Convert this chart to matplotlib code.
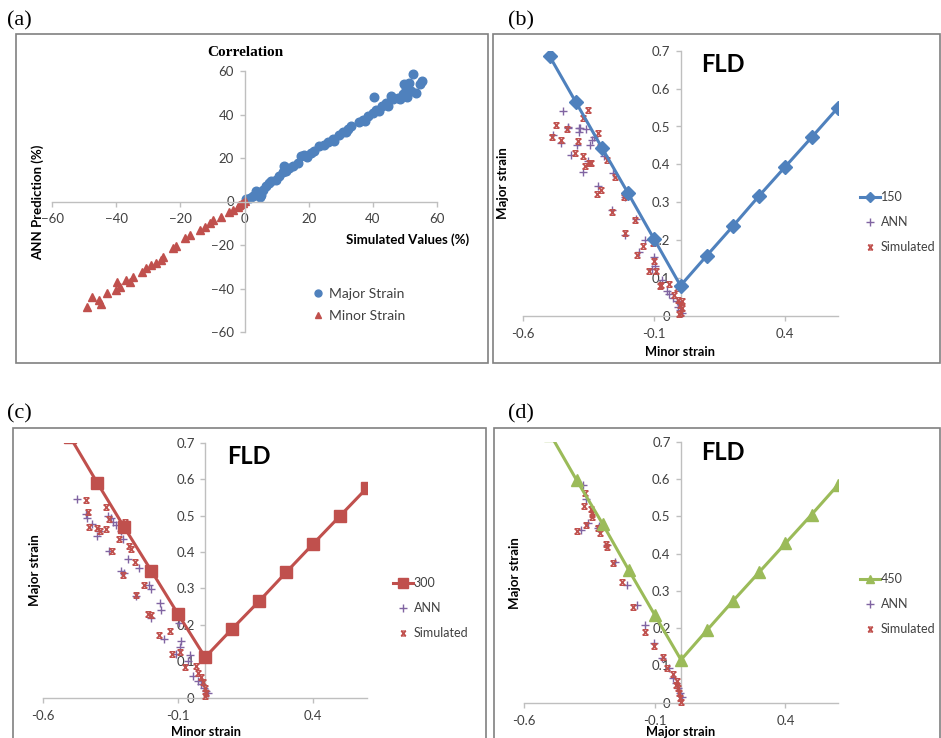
import numpy as np
import matplotlib
matplotlib.use('Agg')
import matplotlib.pyplot as plt
from matplotlib.patches import Rectangle
from matplotlib.path import Path
from matplotlib.lines import Line2D

plt.rcParams['font.family'] = ['Lato', 'DejaVu Sans']

# ---- DATA ----
# (a) correlation: simulated vs ANN prediction (%)
major_sim = [0.5, 1.6, 2.8, 5.2, 3.6, 5.7, 6.7, 8.3, 7.6, 9.9, 10.9, 12.4, 11.9, 14.0, 15.0,
             16.6, 17.6, 18.7, 21.8, 23.3, 24.9, 25.9, 27.5, 29.6, 30.6, 32.2, 33.2, 35.8,
             36.8, 38.4, 39.9, 41.0, 40.5, 43.0, 44.1, 45.6, 46.2, 47.7, 49.3, 50.3, 50.8,
             49.8, 51.3, 52.4, 53.4, 55.3, 54.7, 51.9, 20.7, 28.0, 4.7, 13.0, 19.5, 31.5,
             37.5, 42.0, 44.8, 48.5]
major_ann = [1.1, 1.5, 2.3, 3.1, 4.6, 5.4, 6.9, 9.2, 8.4, 10.0, 11.8, 16.1, 13.4, 15.4, 16.1,
             17.7, 20.7, 21.5, 23.0, 25.3, 26.1, 27.2, 28.7, 30.7, 31.8, 33.3, 34.6, 36.4,
             37.6, 39.2, 40.7, 42.2, 47.9, 43.8, 45.3, 48.4, 46.9, 47.6, 49.2, 51.5, 48.1,
             53.8, 54.5, 58.7, 49.9, 55.3, 53.8, 50.7, 22.3, 27.6, 2.0, 13.8, 20.5, 32.0,
             37.0, 41.5, 44.0, 47.0]
minor_sim = [-49.1, -47.4, -45.5, -44.8, -43.0, -40.2, -39.7, -38.7, -36.8, -34.8, -35.6,
             -31.8, -30.6, -29.0, -27.5, -25.4, -25.9, -22.3, -21.5, -18.7, -17.1, -14.0,
             -12.4, -10.9, -9.9, -7.3, -4.7, -3.6, -2.1, -1.0, 0.0, -0.5, -1.6]
minor_ann = [-48.4, -43.8, -45.3, -46.9, -42.2, -40.7, -36.9, -39.2, -36.1, -34.6, -36.9,
             -32.3, -30.7, -29.2, -28.4, -25.3, -26.9, -21.5, -20.4, -16.9, -15.4, -13.1,
             -11.5, -10.0, -8.4, -6.9, -4.6, -3.8, -2.3, -1.1, 0.3, -0.5, -1.5]

# FLD curves (minor strain grid, major strain for each thickness)
strain_grid = [-0.5, -0.4, -0.3, -0.2, -0.1, 0.0, 0.1, 0.2, 0.3, 0.4, 0.5, 0.6]
fld150 = [0.686, 0.565, 0.444, 0.324, 0.202, 0.080, 0.159, 0.237, 0.317, 0.394, 0.471, 0.549]
fld300 = [0.715, 0.590, 0.468, 0.349, 0.229, 0.111, 0.189, 0.265, 0.344, 0.422, 0.499, 0.576]
fld450 = [0.720, 0.598, 0.480, 0.356, 0.235, 0.115, 0.195, 0.274, 0.351, 0.428, 0.505, 0.584]

# (b) 150
b_ann_x = [-0.447, -0.487, -0.456, -0.428, -0.418, -0.383, -0.388, -0.396, -0.374, -0.352,
           -0.339, -0.345, -0.360, -0.330, -0.301, -0.292, -0.313, -0.260, -0.256, -0.212,
           -0.170, -0.157, -0.136, -0.102, -0.098, -0.110, -0.072, -0.051, -0.043, -0.028,
           -0.015, -0.009, -0.003, 0.004, -0.212, -0.430, -0.386]
b_ann_y = [0.542, 0.478, 0.456, 0.498, 0.424, 0.497, 0.485, 0.450, 0.381, 0.408,
           0.465, 0.452, 0.494, 0.471, 0.438, 0.421, 0.342, 0.280, 0.377, 0.315,
           0.256, 0.170, 0.201, 0.155, 0.131, 0.125, 0.096, 0.065, 0.058, 0.047,
           0.039, 0.025, 0.017, 0.008, 0.213, 0.497, 0.497]
b_sim_x = [-0.476, -0.489, -0.434, -0.457, -0.393, -0.402, -0.371, -0.364, -0.348, -0.373,
           -0.354, -0.316, -0.307, -0.279, -0.250, -0.320, -0.305, -0.263, -0.216, -0.212,
           -0.174, -0.165, -0.142, -0.119, -0.104, -0.094, -0.075, -0.043, -0.025, -0.009,
           -0.003, 0.004, 0.000, -0.005, 0.005, -0.015, -0.340, -0.080, -0.100]
b_sim_y = [0.504, 0.471, 0.493, 0.465, 0.463, 0.431, 0.423, 0.395, 0.403, 0.522,
           0.544, 0.482, 0.445, 0.412, 0.366, 0.322, 0.333, 0.274, 0.315, 0.219,
           0.252, 0.162, 0.186, 0.120, 0.192, 0.120, 0.083, 0.085, 0.056, 0.043,
           0.030, 0.021, 0.008, 0.004, 0.039, 0.074, 0.404, 0.080, 0.146]

# (c) 300
c_ann_x = [-0.474, -0.443, -0.437, -0.421, -0.400, -0.395, -0.362, -0.350, -0.340, -0.331,
           -0.356, -0.313, -0.300, -0.313, -0.306, -0.285, -0.244, -0.257, -0.207, -0.201,
           -0.201, -0.166, -0.164, -0.151, -0.096, -0.089, -0.092, -0.108, -0.058, -0.065,
           -0.046, -0.027, -0.015, -0.005, 0.004, 0.010]
c_ann_y = [0.546, 0.505, 0.493, 0.477, 0.443, 0.458, 0.500, 0.493, 0.481, 0.474,
           0.403, 0.347, 0.343, 0.458, 0.435, 0.380, 0.355, 0.278, 0.310, 0.298,
           0.218, 0.259, 0.241, 0.162, 0.206, 0.157, 0.139, 0.120, 0.116, 0.102,
           0.060, 0.046, 0.037, 0.028, 0.019, 0.014]
c_sim_x = [-0.443, -0.433, -0.430, -0.400, -0.390, -0.368, -0.368, -0.356, -0.344, -0.319,
           -0.306, -0.282, -0.275, -0.259, -0.257, -0.226, -0.213, -0.201, -0.170, -0.129,
           -0.124, -0.092, -0.073, -0.033, -0.025, -0.015, -0.009, -0.002, 0.004, -0.002,
           -0.298]
c_sim_y = [0.542, 0.511, 0.468, 0.465, 0.458, 0.463, 0.523, 0.491, 0.402, 0.437,
           0.338, 0.417, 0.407, 0.373, 0.282, 0.310, 0.231, 0.227, 0.171, 0.182,
           0.120, 0.126, 0.083, 0.088, 0.069, 0.056, 0.042, 0.028, 0.014, 0.005,
           0.481]

# (d) 450
d_ann_x = [-0.374, -0.364, -0.381, -0.355, -0.319, -0.313, -0.285, -0.253, -0.208, -0.170,
           -0.138, -0.103, -0.074, -0.045, -0.029, -0.019, -0.010, -0.004, 0.003]
d_ann_y = [0.585, 0.546, 0.463, 0.483, 0.470, 0.474, 0.423, 0.377, 0.317, 0.261,
           0.208, 0.160, 0.121, 0.093, 0.066, 0.052, 0.039, 0.025, 0.016]
d_sim_x = [-0.400, -0.368, -0.370, -0.364, -0.346, -0.342, -0.341, -0.310, -0.317, -0.289,
           -0.259, -0.227, -0.183, -0.138, -0.102, -0.070, -0.055, -0.032, -0.019, -0.010,
           -0.006, -0.004, 0.000, -0.017, -0.285]
d_sim_y = [0.461, 0.562, 0.528, 0.477, 0.521, 0.506, 0.499, 0.456, 0.470, 0.425,
           0.376, 0.324, 0.256, 0.191, 0.151, 0.124, 0.094, 0.076, 0.048, 0.039,
           0.025, 0.013, 0.003, 0.057, 0.418]

# ---- STYLE ----
W, H = 941, 738
BLUE, RED, GREEN, PURPLE = '#4F81BD', '#C0504D', '#9BBB59', '#8064A2'
AXC = '#BFBFBF'
TXT = '#404040'

# Excel style "x" marker with top/bottom bars
SIM_MARK = Path([(-1, -1), (1, 1), (-1, 1), (1, -1), (-1, 1), (1, 1), (-1, -1), (1, -1)],
                [Path.MOVETO, Path.LINETO] * 4)

fig = plt.figure(figsize=(W / 100, H / 100), dpi=100)


def place(l, t, r, b):
    return fig.add_axes([l / W, 1 - b / H, (r - l) / W, (b - t) / H])


def ftext(x, y, s, **kw):
    fig.text(x / W, 1 - y / H, s, **kw)


def frame(l, t, r, b):
    fig.add_artist(Rectangle((l / W, 1 - b / H), (r - l) / W, (b - t) / H,
                             transform=fig.transFigure, fill=False,
                             ec='#808080', lw=1.2, clip_on=False))


def cross_axes(ax):
    for s in ['top', 'right']:
        ax.spines[s].set_visible(False)
    ax.spines['left'].set_position(('data', 0))
    ax.spines['bottom'].set_position(('data', 0))
    for s in ['left', 'bottom']:
        ax.spines[s].set_color(AXC)
        ax.spines[s].set_linewidth(1.0)
    ax.patch.set_alpha(0)
    ax.tick_params(axis='both', colors=AXC, labelcolor=TXT, labelsize=9.5,
                   direction='out', length=3.5, width=1.0)
    ax.tick_params(axis='x', pad=5)
    ax.tick_params(axis='y', pad=4)


frame(16, 34, 488, 363)
frame(493, 34, 940, 363)
frame(13, 428, 486, 742)
frame(494, 428, 940, 742)

for lab, x, y in [('(a)', 7, 21), ('(b)', 508, 21), ('(c)', 7, 414), ('(d)', 508, 414)]:
    ftext(x, y, lab, family='Liberation Serif', fontsize=16, va='center', ha='left')

# ---- (a) correlation ----
ax = place(52, 71, 437, 332)
cross_axes(ax)
ax.set_xlim(-60, 60)
ax.set_ylim(-60, 60)
ax.set_xticks(np.arange(-60, 61, 20))
ax.set_yticks(np.arange(-60, 61, 20))
ax.plot(major_sim, major_ann, 'o', color=BLUE, ms=6.2, mec=BLUE, clip_on=False)
ax.plot(minor_sim, minor_ann, '^', color=RED, ms=6, mec=RED, clip_on=False)
ftext(245, 53, 'Correlation', family='Liberation Serif', fontweight='bold',
      fontsize=11, ha='center', va='center')
ftext(38, 202, 'ANN Prediction (%)', fontweight='bold', fontsize=9.5, rotation=90,
      ha='center', va='center')
ftext(408, 240, 'Simulated Values (%)', fontweight='bold', fontsize=9.5,
      ha='center', va='center')
h = [Line2D([], [], ls='none', marker='o', color=BLUE, ms=5),
     Line2D([], [], ls='none', marker='^', color=RED, ms=5)]
ax.legend(h, ['Major Strain', 'Minor Strain'], loc='center left',
          bbox_to_anchor=(307 / W, 1 - 305 / H), bbox_transform=fig.transFigure,
          frameon=False, fontsize=10, handlelength=0.6, handletextpad=0.5,
          labelspacing=0.75, labelcolor=TXT, borderpad=0)


# ---- FLD panels ----
def fld_panel(box, curve, color, marker, ms, label, ann_x, ann_y, sim_x, sim_y,
              fld_pos, ylab_pos, xlab_pos, xlab, leg_pos):
    ax = place(*box)
    cross_axes(ax)
    ax.set_xlim(-0.6, 0.6)
    ax.set_ylim(0, 0.7)
    ax.set_xticks([-0.6, -0.1, 0.4])
    ax.set_yticks(np.arange(0, 0.71, 0.1))
    ax.set_xticklabels(['-0.6', '-0.1', '0.4'])
    ax.set_yticklabels(['0', '0.1', '0.2', '0.3', '0.4', '0.5', '0.6', '0.7'])
    ax.plot(ann_x, ann_y, '+', color=PURPLE, ms=6, mew=1.0, clip_on=False, zorder=3)
    ax.plot(sim_x, sim_y, ls='none', marker=SIM_MARK, mec=RED, mfc='none', ms=4,
            mew=1.0, clip_on=False, zorder=3)
    ax.plot(strain_grid, curve, color=color, lw=2.2, marker=marker, ms=ms,
            mfc=color, mec=color, zorder=4)
    ftext(*fld_pos, 'FLD', fontweight='bold', fontsize=17, ha='center', va='center')
    ftext(*ylab_pos, 'Major strain', fontweight='bold', fontsize=9.5, rotation=90,
          ha='center', va='center')
    ftext(*xlab_pos, xlab, fontweight='bold', fontsize=9.2, ha='center', va='center')
    h = [Line2D([], [], color=color, lw=2.2, marker=marker, ms=ms * 0.8),
         Line2D([], [], ls='none', marker='+', color=PURPLE, ms=6),
         Line2D([], [], ls='none', marker=SIM_MARK, mec=RED, mfc='none', ms=3.5)]
    ax.legend(h, [label, 'ANN', 'Simulated'], loc='center left',
              bbox_to_anchor=(leg_pos[0] / W, 1 - leg_pos[1] / H),
              bbox_transform=fig.transFigure, frameon=False, fontsize=9,
              handlelength=1.6, handletextpad=0.05, labelspacing=1.05,
              labelcolor=TXT, borderpad=0)


fld_panel((523.3, 50.7, 837.7, 316), fld150, BLUE, 'D', 7, '150',
          b_ann_x, b_ann_y, b_sim_x, b_sim_y,
          (723, 64), (503, 183), (680, 352), 'Minor strain', (854, 222))
fld_panel((43.3, 442.7, 367, 697.7), fld300, RED, 's', 8.5, '300',
          c_ann_x, c_ann_y, c_sim_x, c_sim_y,
          (249, 457), (35, 570), (206, 732), 'Minor strain', (387, 608))
fld_panel((524.3, 442, 837.7, 702.7), fld450, GREEN, '^', 8, '450',
          d_ann_x, d_ann_y, d_sim_x, d_sim_y,
          (723, 452), (515, 573), (681, 732), 'Major strain', (854, 604))

fig.savefig('out.png', dpi=100)
